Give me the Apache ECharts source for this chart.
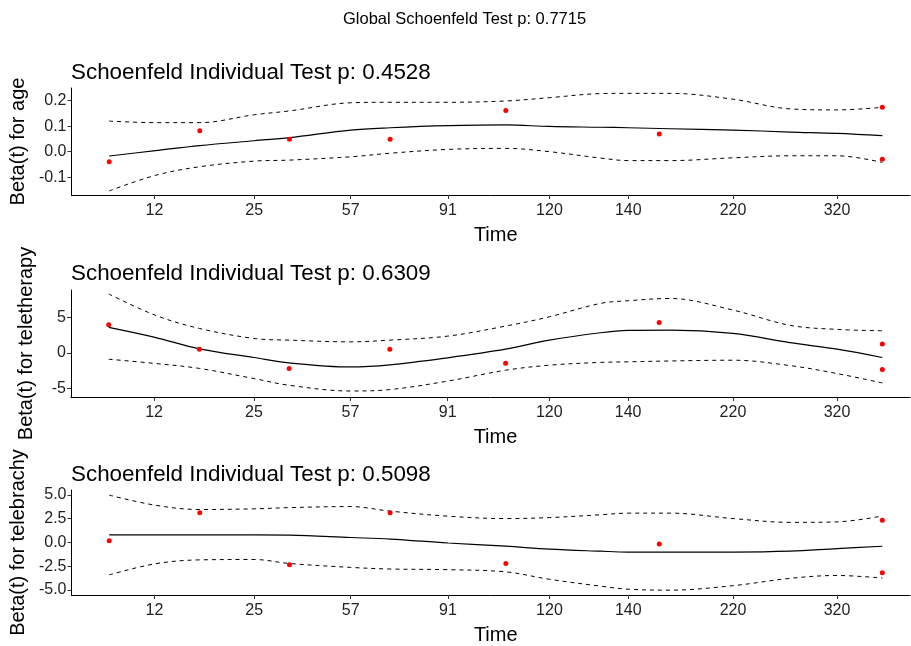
<!DOCTYPE html>
<html>
<head>
<meta charset="utf-8">
<script src="https://cdn.jsdelivr.net/npm/echarts@6/dist/echarts.min.js"></script>
<style>
  html, body { margin: 0; padding: 0; background: #fff; }
  #chart { width: 911px; height: 646px; }
</style>
</head>
<body>
<div id="chart"></div>
<script>
// time axis (KM transformed), tick labels show real time
var timeLabels = ['12', '25', '57', '91', '120', '140', '220', '320'];
var timeTicks = [0.099, 0.218, 0.333, 0.449, 0.570, 0.664, 0.789, 0.913];

// x of residual points and of the smoothed curves
var pointX = [0.045, 0.153, 0.260, 0.380, 0.518, 0.701, 0.967, 0.967];
var curveX = [0.045, 0.100, 0.153, 0.218, 0.260, 0.333, 0.380, 0.449, 0.518,
              0.570, 0.631, 0.664, 0.714, 0.789, 0.857, 0.913, 0.967];

// age
var agePoints = [-0.039, 0.082, 0.049, 0.049, 0.162, 0.069, 0.174, -0.030];
var ageFit = [-0.017, 0.004, 0.024, 0.043, 0.055, 0.085, 0.094, 0.102, 0.105,
              0.099, 0.096, 0.094, 0.090, 0.085, 0.077, 0.072, 0.063];
var ageUpper = [0.120, 0.114, 0.114, 0.145, 0.160, 0.192, 0.194, 0.194, 0.199,
                0.212, 0.228, 0.229, 0.229, 0.206, 0.168, 0.164, 0.174];
var ageLower = [-0.154, -0.093, -0.059, -0.037, -0.033, -0.020, -0.006, 0.009, 0.013,
                0.000, -0.025, -0.035, -0.035, -0.024, -0.016, -0.016, -0.042];
var ageTicks = [-0.1, 0, 0.1, 0.2];

// teletherapy
var telePoints = [3.98, 0.52, -2.2, 0.52, -1.47, 4.3, 1.24, -2.37];
var teleFit = [3.6, 2.19, 0.57, -0.66, -1.42, -1.99, -1.7, -0.7, 0.52,
               1.8, 2.85, 3.18, 3.22, 2.75, 1.45, 0.52, -0.66];
var teleUpper = [8.34, 5.35, 3.46, 2.04, 1.8, 1.56, 1.8, 2.37, 3.79,
                 5.1, 7.0, 7.38, 7.7, 6.06, 3.9, 3.32, 3.13];
var teleLower = [-0.9, -1.5, -2.2, -3.64, -4.59, -5.4, -5.2, -4.0, -2.46,
                 -1.75, -1.35, -1.27, -1.15, -1.04, -1.8, -2.93, -4.26];
var teleTicks = [-5, 0, 5];

// telebrachy
var brachyPoints = [0.17, 3.11, -2.36, 3.11, -2.22, -0.17, 2.33, -3.2];
var brachyFit = [0.79, 0.79, 0.79, 0.79, 0.77, 0.51, 0.34, -0.07, -0.4,
                 -0.72, -0.93, -1.02, -1.02, -1.02, -0.93, -0.65, -0.41];
var brachyUpper = [4.96, 3.9, 3.45, 3.52, 3.65, 3.76, 3.28, 2.75, 2.5,
                   2.6, 2.9, 3.07, 3.07, 2.5, 2.1, 2.15, 2.77];
var brachyLower = [-3.41, -2.25, -1.84, -1.8, -2.22, -2.63, -2.8, -2.87, -3.1,
                   -3.88, -4.6, -4.92, -5.02, -4.55, -3.78, -3.48, -3.75];
var brachyTicks = [-5, -2.5, 0, 2.5, 5];

var panels = [
  { name: 'age', p: '0.4528', pts: agePoints, fit: ageFit, up: ageUpper, lo: ageLower,
    ticks: ageTicks, min: -0.17, max: 0.25, dec: 1, top: 88, height: 107, titleTop: 57 },
  { name: 'teletherapy', p: '0.6309', pts: telePoints, fit: teleFit, up: teleUpper, lo: teleLower,
    ticks: teleTicks, min: -6.25, max: 8.9, dec: 0, top: 290, height: 107, titleTop: 258 },
  { name: 'telebrachy', p: '0.5098', pts: brachyPoints, fit: brachyFit, up: brachyUpper, lo: brachyLower,
    ticks: brachyTicks, min: -5.53, max: 5.5, dec: 1, top: 490, height: 108, titleTop: 459 }
];

var FONT = 'Liberation Sans, Arial, sans-serif';

function pairs(xs, ys) {
  return xs.map(function (x, i) { return [x, ys[i]]; });
}

var chart = echarts.init(document.getElementById('chart'));

var title = [{
  text: 'Global Schoenfeld Test p: 0.7715',
  left: 338, top: 6,
  textStyle: { fontFamily: FONT, fontSize: 16.5, fontWeight: 'normal', color: '#000' }
}];
var grid = [], xAxis = [], yAxis = [], series = [];

panels.forEach(function (pn, k) {
  title.push({
    text: 'Schoenfeld Individual Test p: ' + pn.p,
    left: 66, top: pn.titleTop,
    textStyle: { fontFamily: FONT, fontSize: 22.4, fontWeight: 'normal', color: '#000' }
  });
  grid.push({ left: 71, right: 1, top: pn.top, height: pn.height, containLabel: false });
  xAxis.push({
    type: 'value', gridIndex: k, min: 0, max: 1,
    name: 'Time', nameLocation: 'middle', nameGap: 30,
    nameTextStyle: { fontFamily: FONT, fontSize: 20, color: '#000', padding: [0, 0, 0, 10] },
    axisLine: { show: true, onZero: false, lineStyle: { color: '#000', width: 1 } },
    axisTick: { show: true, customValues: timeTicks, length: 4, lineStyle: { color: '#333' } },
    axisLabel: {
      customValues: timeTicks, margin: 8,
      fontFamily: FONT, fontSize: 16, color: '#222',
      formatter: function (v) {
        for (var i = 0; i < timeTicks.length; i++) {
          if (Math.abs(timeTicks[i] - v) < 1e-6) return timeLabels[i];
        }
        return '';
      }
    },
    splitLine: { show: false }
  });
  yAxis.push({
    type: 'value', gridIndex: k, min: pn.min, max: pn.max,
    name: 'Beta(t) for ' + pn.name, nameLocation: 'middle', nameGap: 35,
    nameTextStyle: { fontFamily: FONT, fontSize: 20, color: '#000' },
    axisLine: { show: true, onZero: false, lineStyle: { color: '#000', width: 1 } },
    axisTick: { show: true, customValues: pn.ticks, length: 4, lineStyle: { color: '#333' } },
    axisLabel: {
      customValues: pn.ticks, margin: 5,
      fontFamily: FONT, fontSize: 16, color: '#222',
      formatter: (function (d) { return function (v) { return Number(v).toFixed(d); }; })(pn.dec)
    },
    splitLine: { show: false }
  });
  var lineBase = { type: 'line', xAxisIndex: k, yAxisIndex: k, showSymbol: false, symbol: 'none', smooth: 0.35, silent: true };
  series.push(Object.assign({}, lineBase, {
    data: pairs(curveX, pn.up), lineStyle: { color: '#000', width: 1, type: [4, 4] }
  }));
  series.push(Object.assign({}, lineBase, {
    data: pairs(curveX, pn.lo), lineStyle: { color: '#000', width: 1, type: [4, 4] }
  }));
  series.push(Object.assign({}, lineBase, {
    data: pairs(curveX, pn.fit), lineStyle: { color: '#000', width: 1.2 }
  }));
  series.push({
    type: 'scatter', xAxisIndex: k, yAxisIndex: k, z: 5,
    symbol: 'circle', symbolSize: 5,
    itemStyle: { color: '#ff0000', opacity: 1 },
    data: pairs(pointX, pn.pts)
  });
});

chart.setOption({
  animation: false,
  backgroundColor: '#fff',
  title: title,
  grid: grid,
  xAxis: xAxis,
  yAxis: yAxis,
  series: series
});
</script>
</body>
</html>
